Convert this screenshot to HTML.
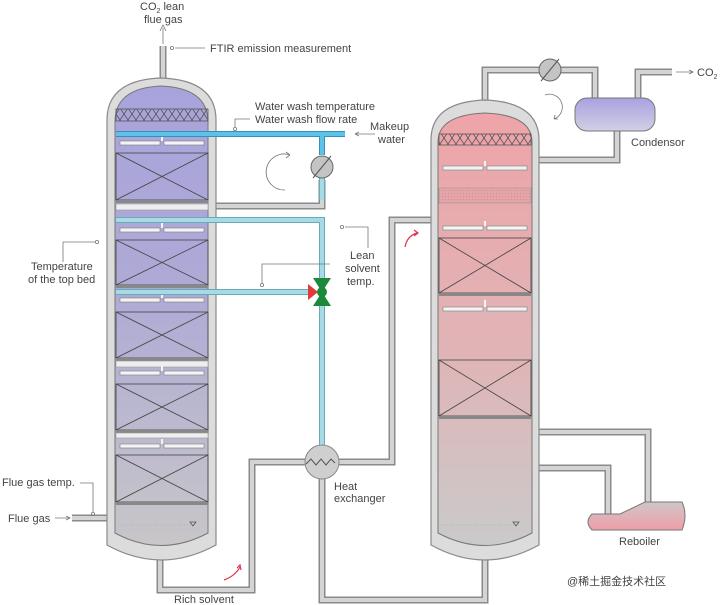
<!DOCTYPE html><html><head><meta charset="utf-8"><style>
body{margin:0;background:#fff}svg{display:block}
text{font-family:"Liberation Sans","Noto Sans CJK SC",sans-serif;font-size:11px;fill:#444}
</style></head><body>
<svg width="720" height="605" viewBox="0 0 720 605" xmlns="http://www.w3.org/2000/svg">
<defs>
<linearGradient id="ga" x1="0" y1="0" x2="0" y2="1"><stop offset="0" stop-color="#a9a3dc"/><stop offset="0.45" stop-color="#aeaad6"/><stop offset="1" stop-color="#c8c6c8"/></linearGradient>
<linearGradient id="gs" x1="0" y1="0" x2="0" y2="1"><stop offset="0" stop-color="#eea4a8"/><stop offset="0.55" stop-color="#e0b4b6"/><stop offset="1" stop-color="#cacaca"/></linearGradient>
<linearGradient id="gc" x1="0" y1="0" x2="0" y2="1"><stop offset="0" stop-color="#a8a2e0"/><stop offset="1" stop-color="#d2cfe4"/></linearGradient>
<linearGradient id="gr" x1="0" y1="0" x2="0" y2="1"><stop offset="0" stop-color="#cfc7c8"/><stop offset="1" stop-color="#ef9da8"/></linearGradient>
<pattern id="xx" width="8" height="12" patternUnits="userSpaceOnUse"><path d="M0 0L8 12M8 0L0 12" stroke="#555" stroke-width="0.8"/></pattern>
<pattern id="dots" width="3" height="3" patternUnits="userSpaceOnUse"><rect width="3" height="3" fill="#e8a4a8"/><circle cx="1.5" cy="1.5" r="0.8" fill="#c99"/></pattern>
</defs>
<g fill="none" stroke-linejoin="miter">
<g stroke="#8a8a8a" stroke-width="7">
<path d="M163 90V46"/>
<path d="M160 545V590H252V462H305"/>
<path d="M339 462H392V220H440"/>
<path d="M322 479V600H485V545"/>
<path d="M485 110V70H595V102"/>
<path d="M617 130V160H530"/>
<path d="M638 100V72H672"/>
<path d="M530 432H648V505"/>
<path d="M530 468H608V515"/>
<path d="M72 518H115"/>
<path d="M322 180V206H210"/>
</g>
<g stroke="#d4d4d4" stroke-width="4">
<path d="M163 90V46"/>
<path d="M160 545V590H252V462H305"/>
<path d="M339 462H392V220H440"/>
<path d="M322 479V600H485V545"/>
<path d="M485 110V70H595V102"/>
<path d="M617 130V160H530"/>
<path d="M638 100V72H672"/>
<path d="M530 432H648V505"/>
<path d="M530 468H608V515"/>
<path d="M72 518H115"/>
<path d="M322 180V206H210"/>
</g>
</g>
<path d="M107 545V120Q107 80 161 78Q216 80 216 120V545Q161 575 107 545Z" fill="#dcdcdc" stroke="#8a8a8a" stroke-width="1.2"/>
<path d="M115 533V122Q115 88 161 86Q208 88 208 122V533Q161 558 115 533Z" fill="url(#ga)" stroke="#777" stroke-width="1"/>
<path d="M431 545V140Q431 102 485 100Q539 102 539 140V545Q485 575 431 545Z" fill="#dcdcdc" stroke="#8a8a8a" stroke-width="1.2"/>
<path d="M438 533V142Q438 115 485 113Q532 115 532 142V533Q485 558 438 533Z" fill="url(#gs)" stroke="#777" stroke-width="1"/>
<rect x="116" y="109" width="92" height="12" fill="url(#xx)" stroke="#555" stroke-width="0.8"/>
<g stroke="#444" stroke-width="0.8" fill="none">
<rect x="116" y="153" width="92" height="47"/><path d="M116 153L208 200M208 153L116 200"/>
<rect x="116" y="240" width="92" height="45"/><path d="M116 240L208 285M208 240L116 285"/>
<rect x="116" y="312" width="92" height="46"/><path d="M116 312L208 358M208 312L116 358"/>
<rect x="116" y="384" width="92" height="46"/><path d="M116 384L208 430M208 384L116 430"/>
<rect x="116" y="455" width="92" height="47"/><path d="M116 455L208 502M208 455L116 502"/>
<rect x="439" y="238" width="92" height="55"/><path d="M439 238L531 293M531 238L439 293"/>
<rect x="439" y="360" width="92" height="56"/><path d="M439 360L531 416M531 360L439 416"/>
</g>
<g fill="#888"><rect x="116" y="200" width="92" height="3"/><rect x="116" y="285" width="92" height="3"/><rect x="116" y="358" width="92" height="3"/><rect x="116" y="430" width="92" height="3"/><rect x="116" y="502" width="92" height="3"/>
<rect x="439" y="293" width="92" height="3"/><rect x="439" y="416" width="92" height="3"/></g>
<g fill="#eee" stroke="#999" stroke-width="0.6"><rect x="116" y="204" width="92" height="6"/><rect x="116" y="361" width="92" height="6"/><rect x="116" y="433" width="92" height="5"/></g>
<rect x="439" y="134" width="92" height="11" fill="url(#xx)" stroke="#555" stroke-width="0.8"/>
<rect x="439" y="188" width="92" height="15" fill="url(#dots)" stroke="#999" stroke-width="0.6"/>
<g fill="#f4f4f4" stroke="#888" stroke-width="0.7">
<rect x="120" y="141" width="40" height="4"/><rect x="164" y="141" width="40" height="4"/>
<rect x="120" y="228" width="40" height="4"/><rect x="164" y="228" width="40" height="4"/>
<rect x="120" y="298" width="40" height="4"/><rect x="164" y="298" width="40" height="4"/>
<rect x="120" y="371" width="40" height="4"/><rect x="164" y="371" width="40" height="4"/>
<rect x="120" y="444" width="40" height="4"/><rect x="164" y="444" width="40" height="4"/>
<rect x="443" y="166" width="40" height="4"/><rect x="487" y="166" width="40" height="4"/>
<rect x="443" y="226" width="40" height="4"/><rect x="487" y="226" width="40" height="4"/>
<rect x="443" y="307" width="40" height="4"/><rect x="487" y="307" width="40" height="4"/>
</g>
<g stroke="#f4f4f4" stroke-width="2"><path d="M162 136V141M162 223V228M162 293V298M162 366V371M162 439V444M485 161V166M485 221V226M485 300V307"/></g>
<g stroke="#7fd0e0" stroke-width="1" stroke-dasharray="1 5">
<path d="M122 147H204M122 234H204M122 304H204M122 377H204M122 450H204M445 172H527M445 232H527M445 313H527"/></g>
<g stroke="#aaa" stroke-dasharray="1 2" stroke-width="0.8"><path d="M118 525H195M441 525H518"/></g>
<g fill="none" stroke="#555" stroke-width="0.8"><path d="M190 522h6l-3 4z"/><path d="M513 522h6l-3 4z"/></g>
<g fill="none" stroke="#3a8fb8" stroke-width="6"><path d="M116 134H345"/><path d="M322 134V155"/></g>
<g fill="none" stroke="#5cc3e8" stroke-width="4"><path d="M116 134H345"/><path d="M322 134V155"/></g>
<g fill="none" stroke="#6aa9b8" stroke-width="6"><path d="M116 220H322V445"/><path d="M116 292H308"/><path d="M322 178V200"/></g>
<g fill="none" stroke="#a6dbe6" stroke-width="4"><path d="M116 220H322V445"/><path d="M116 292H308"/><path d="M322 178V200"/></g>
<circle cx="322" cy="167" r="11" fill="#c4c4c4" stroke="#666"/><path d="M313 178L331 156" stroke="#555"/>
<circle cx="550" cy="70" r="11" fill="#c4c4c4" stroke="#666"/><path d="M541 81L559 59" stroke="#555"/>
<path d="M308 284L318 292L308 300Z" fill="#e03a3a"/>
<path d="M313 278H331L322 292ZM313 306H331L322 292Z" fill="#1a8a3a"/><circle cx="322" cy="292" r="5" fill="#1a8a3a"/>
<circle cx="322" cy="462" r="17" fill="#cfcfcf" stroke="#888"/><path d="M306 464l5-5 5 6 5-6 5 6 5-6 4 4" fill="none" stroke="#555"/>
<rect x="575" y="98" width="80" height="33" rx="12" fill="url(#gc)" stroke="#777"/>
<path d="M592 514H620L645 502H682Q688 515 682 530H592Q584 522 592 514Z" fill="url(#gr)" stroke="#777"/>
<g fill="none" stroke="#777" stroke-width="0.8">
<path d="M163 44V28M160 31L163 25L166 31"/>
<path d="M175 48H205"/><circle cx="172" cy="48" r="1.6"/>
<path d="M235 127V119H250"/><circle cx="235" cy="129" r="1.6"/>
<path d="M355 134H375M355 134l4-2M355 134l4 2"/>
<path d="M345 227H368V248"/><circle cx="342" cy="227" r="1.6"/>
<path d="M262 283V264H330"/><circle cx="262" cy="285" r="1.6"/>
<path d="M63 262V242H95"/><circle cx="97" cy="242" r="1.6"/>
<path d="M80 483H93V512"/><circle cx="93" cy="514" r="1.6"/>
<path d="M55 518H70M66 516l4 2-4 2"/>
<path d="M676 72H693M689 70l4 2-4 2"/>
<path d="M290 155A18 18 0 1 0 285 190M290 155l-4-3M290 155l-4 3"/>
<path d="M545 95A12 12 0 0 1 554 119M554 119l1-4M554 119l4 0"/>
</g>
<g fill="none" stroke="#e0304a" stroke-width="1.2"><path d="M405 247Q407 236 417 233M414 230l4 3-4 3"/><path d="M224 580Q235 576 240 567M237 568l3-3 1 5"/></g>
<text x="140" y="10">CO<tspan font-size="7" dy="3">2</tspan><tspan dy="-3"> lean</tspan></text>
<text x="144" y="23">flue gas</text>
<text x="210" y="52">FTIR emission measurement</text>
<text x="255" y="110">Water wash temperature</text>
<text x="255" y="123">Water wash flow rate</text>
<text x="370" y="130">Makeup</text><text x="378" y="143">water</text>
<text x="350" y="259">Lean</text><text x="345" y="272">solvent</text><text x="347" y="285">temp.</text>
<text x="31" y="270">Temperature</text><text x="28" y="283">of the top bed</text>
<text x="2" y="486">Flue gas temp.</text>
<text x="8" y="522">Flue gas</text>
<text x="334" y="490">Heat</text><text x="334" y="502">exchanger</text>
<text x="174" y="603">Rich solvent</text>
<text x="631" y="146">Condensor</text>
<text x="697" y="76">CO<tspan font-size="7" dy="3">2</tspan></text>
<text x="619" y="545">Reboiler</text>
<text x="567" y="585" font-size="13" fill="#999">@稀土掘金技术社区</text>
</svg>
</body></html>
